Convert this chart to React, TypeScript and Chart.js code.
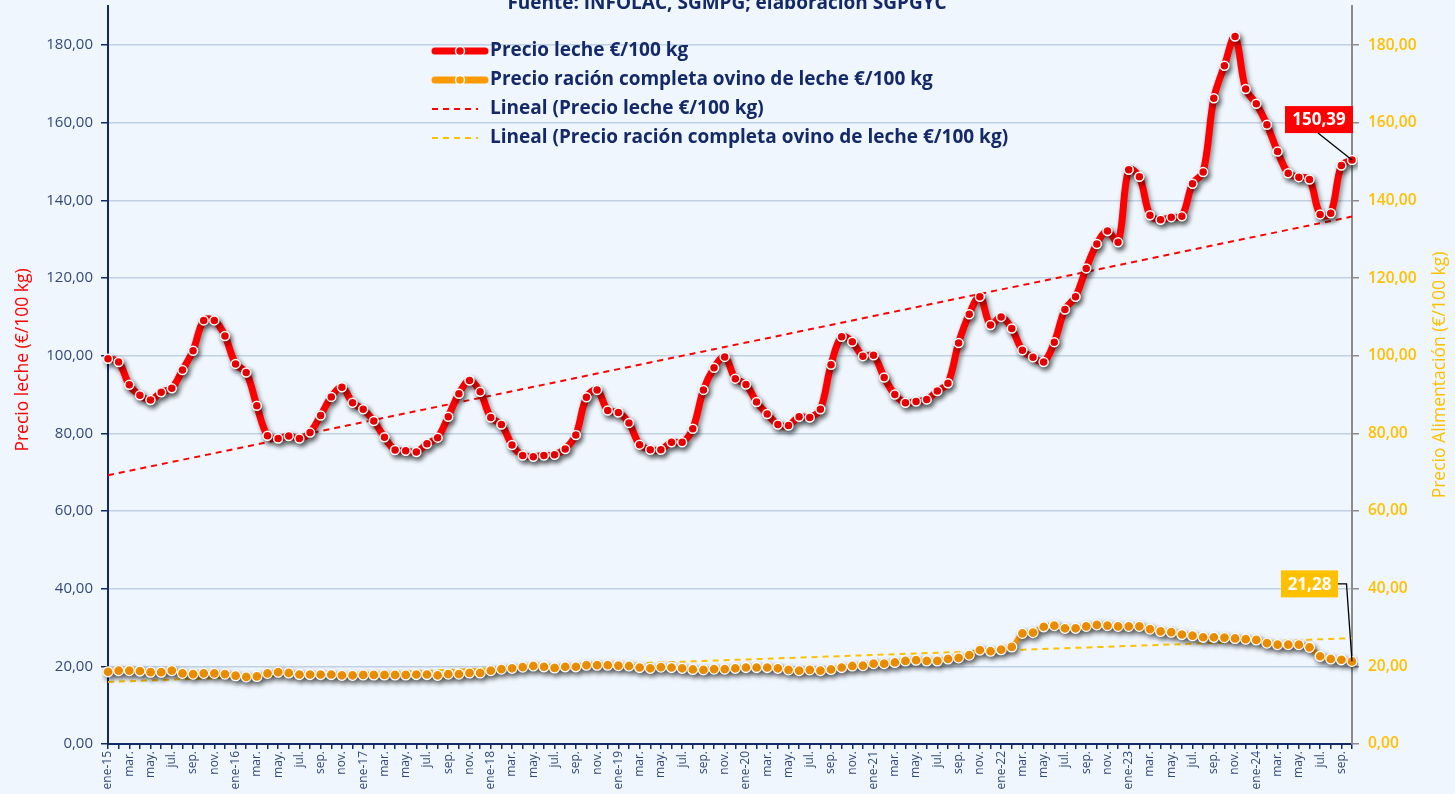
import React, { useEffect, useRef } from 'react';
import { Chart, registerables } from 'chart.js';

Chart.register(...registerables);

// ---- data ----
const MONTHS = ['ene', 'feb.', 'mar.', 'abr.', 'may.', 'jun.', 'jul.', 'ago.', 'sep.', 'oct.', 'nov.', 'dic.'];
const YEARS = ['15', '16', '17', '18', '19', '20', '21', '22', '23', '24'];

const PRECIO_LECHE = [
  99.2, 98.4, 92.5, 89.8, 88.6, 90.6, 91.6, 96.3, 101.3, 109.1, 109.1, 105.1,
  97.9, 95.7, 87.1, 79.4, 78.7, 79.3, 78.7, 80.2, 84.6, 89.4, 91.9, 87.9,
  86.2, 83.2, 79.0, 75.7, 75.5, 75.2, 77.3, 78.9, 84.3, 90.2, 93.6, 90.7,
  84.1, 82.3, 77.0, 74.3, 74.0, 74.3, 74.5, 76.0, 79.6, 89.3, 91.2, 85.9,
  85.4, 82.7, 77.1, 75.8, 75.8, 77.7, 77.7, 81.2, 91.2, 96.9, 99.7, 94.1,
  92.6, 88.1, 85.0, 82.3, 82.0, 84.3, 84.1, 86.2, 97.7, 104.9, 103.6, 99.9,
  100.1, 94.4, 90.0, 87.9, 88.2, 88.7, 90.9, 92.9, 103.3, 110.7, 115.2, 107.9,
  110.0, 107.0, 101.4, 99.6, 98.4, 103.5, 111.9, 115.2, 122.5, 128.8, 132.1, 129.2,
  147.9, 146.1, 136.2, 135.0, 135.7, 135.9, 144.3, 147.3, 166.3, 174.7, 182.2, 168.7,
  164.9, 159.5, 152.6, 147.0, 146.0, 145.4, 136.4, 136.7, 149.0, 150.39,
];

const PRECIO_RACION = [
  18.6, 18.9, 18.9, 18.8, 18.5, 18.5, 18.9, 18.2, 18.0, 18.2, 18.2, 18.0,
  17.6, 17.3, 17.4, 18.2, 18.5, 18.3, 17.9, 17.9, 17.9, 17.9, 17.7, 17.7,
  17.8, 17.8, 17.8, 17.8, 17.8, 17.9, 17.9, 17.7, 18.0, 18.0, 18.3, 18.3,
  18.9, 19.3, 19.5, 19.8, 20.1, 19.9, 19.6, 19.9, 19.9, 20.3, 20.3, 20.3,
  20.2, 20.1, 19.7, 19.5, 19.8, 19.7, 19.5, 19.2, 19.1, 19.3, 19.3, 19.5,
  19.7, 19.7, 19.7, 19.5, 19.1, 18.9, 19.1, 18.9, 19.2, 19.7, 20.1, 20.2,
  20.7, 20.7, 21.0, 21.4, 21.6, 21.4, 21.4, 21.9, 22.2, 22.9, 24.2, 23.9,
  24.3, 25.0, 28.5, 28.7, 30.2, 30.5, 29.8, 29.8, 30.3, 30.7, 30.5, 30.3,
  30.3, 30.3, 29.6, 29.0, 28.8, 28.2, 27.9, 27.5, 27.5, 27.4, 27.2, 27.0,
  26.8, 26.0, 25.6, 25.6, 25.6, 24.9, 22.6, 21.9, 21.7, 21.28,
];

const CATEGORIES = YEARS.flatMap((y) => MONTHS.map((m, i) => (i === 0 ? `ene-${y}` : m))).slice(0, PRECIO_LECHE.length);

const Y_TICKS_STEP = 20;
const Y_MAX = 190;

const TITLE = 'Fuente: INFOLAC, SGMPG; elaboración SGPGYC';
const LEGEND_LABELS = [
  'Precio leche €/100 kg',
  'Precio ración completa ovino de leche €/100 kg',
  'Lineal (Precio leche €/100 kg)',
  'Lineal (Precio ración completa ovino de leche €/100 kg)',
];
const Y_LEFT_TITLE = 'Precio leche (€/100 kg)';
const Y_RIGHT_TITLE = 'Precio Alimentación (€/100 kg)';

// ---- styles ----
const FONT = '"Open Sans", "Noto Sans", sans-serif';
const BG = '#EFF6FD';
const NAVY = '#13296A';
const TICK_TEXT = '#33497A';
const RED = '#FF0000';
const ORANGE = '#FF9900';
const GOLD = '#FFC000';
const GRID = 'rgba(176,196,222,0.75)';

function linearFit(vals: number[]): number[] {
  const n = vals.length;
  let sx = 0, sy = 0, sxx = 0, sxy = 0;
  vals.forEach((v, i) => {
    const x = i + 1;
    sx += x; sy += v; sxx += x * x; sxy += x * v;
  });
  const b = (n * sxy - sx * sy) / (n * sxx - sx * sx);
  const a = (sy - b * sx) / n;
  return vals.map((_, i) => a + b * (i + 1));
}

const fmt = (v: number) => v.toFixed(2).replace('.', ',');

const noPad = (s: any) => {
  s.paddingTop = 0;
  s.paddingBottom = 0;
  s.paddingLeft = 0;
  s.paddingRight = 0;
};

const decorPlugin = {
  id: 'decor',
  beforeDraw(chart: any) {
    const { ctx, width, height } = chart;
    ctx.save();
    ctx.fillStyle = BG;
    ctx.fillRect(0, 0, width, height);
    ctx.restore();
  },
  beforeDatasetDraw(chart: any, args: any) {
    if (args.index < 2) {
      const ctx = chart.ctx;
      ctx.save();
      ctx.shadowColor = 'rgba(0,0,0,0.45)';
      ctx.shadowBlur = 5;
      ctx.shadowOffsetX = 2;
      ctx.shadowOffsetY = 3;
    }
  },
  afterDatasetDraw(chart: any, args: any) {
    if (args.index < 2) chart.ctx.restore();
  },
  afterDraw(chart: any) {
    const { ctx } = chart;
    ctx.save();
    // title (cut at top)
    ctx.font = `bold 19px ${FONT}`;
    ctx.fillStyle = NAVY;
    ctx.textAlign = 'center';
    ctx.textBaseline = 'alphabetic';
    ctx.fillText(TITLE, 727, 9);

    // legend
    const lx0 = 432, lx1 = 488, tx = 490;
    const rows = [51, 80, 109, 138];
    const styles = [
      { color: RED, w: 7, dash: [] as number[], marker: true },
      { color: ORANGE, w: 7, dash: [] as number[], marker: true },
      { color: RED, w: 2, dash: [6, 5], marker: false },
      { color: GOLD, w: 2, dash: [6, 5], marker: false },
    ];
    rows.forEach((y, i) => {
      const s = styles[i];
      ctx.save();
      ctx.strokeStyle = s.color;
      ctx.lineWidth = s.w;
      ctx.lineCap = s.marker ? 'round' : 'butt';
      ctx.setLineDash(s.dash);
      ctx.beginPath();
      ctx.moveTo(s.marker ? lx0 + 3 : lx0, y);
      ctx.lineTo(s.marker ? lx1 - 3 : lx1 - 10, y);
      ctx.stroke();
      if (s.marker) {
        ctx.setLineDash([]);
        ctx.beginPath();
        ctx.arc((lx0 + lx1) / 2, y, 4.5, 0, Math.PI * 2);
        ctx.fillStyle = s.color;
        ctx.fill();
        ctx.lineWidth = 1.5;
        ctx.strokeStyle = '#FFFFFF';
        ctx.stroke();
      }
      ctx.restore();
      ctx.font = `bold 19px ${FONT}`;
      ctx.fillStyle = NAVY;
      ctx.textAlign = 'left';
      ctx.textBaseline = 'middle';
      ctx.fillText(LEGEND_LABELS[i], tx, y);
    });

    // axis titles
    ctx.font = `17.5px ${FONT}`;
    ctx.textAlign = 'center';
    ctx.textBaseline = 'middle';
    ctx.save();
    ctx.translate(23, 360);
    ctx.rotate(-Math.PI / 2);
    ctx.fillStyle = RED;
    ctx.fillText(Y_LEFT_TITLE, 0, 0);
    ctx.restore();
    ctx.save();
    ctx.translate(1440, 375);
    ctx.rotate(-Math.PI / 2);
    ctx.fillStyle = GOLD;
    ctx.fillText(Y_RIGHT_TITLE, 0, 0);
    ctx.restore();

    // data labels for last points
    const m0 = chart.getDatasetMeta(0).data;
    const m1 = chart.getDatasetMeta(1).data;
    const p0 = m0[m0.length - 1];
    const p1 = m1[m1.length - 1];
    ctx.font = `bold 17px ${FONT}`;
    ctx.textAlign = 'center';
    ctx.textBaseline = 'middle';
    if (p0) {
      const bx = p0.x - 67, by = p0.y - 54, bw = 68, bh = 27;
      ctx.strokeStyle = '#000';
      ctx.lineWidth = 1.3;
      ctx.beginPath();
      ctx.moveTo(p0.x - 34, by + bh);
      ctx.lineTo(p0.x, p0.y);
      ctx.stroke();
      ctx.fillStyle = RED;
      ctx.fillRect(bx, by, bw, bh);
      ctx.fillStyle = '#FFFFFF';
      ctx.fillText(fmt(PRECIO_LECHE[PRECIO_LECHE.length - 1]), bx + bw / 2, by + bh / 2 + 1);
    }
    if (p1) {
      const bx = p1.x - 71, by = p1.y - 91, bw = 57, bh = 27;
      ctx.strokeStyle = '#000';
      ctx.lineWidth = 1.3;
      ctx.beginPath();
      ctx.moveTo(bx + bw, by + bh / 2);
      ctx.lineTo(p1.x - 5.5, by + bh / 2);
      ctx.lineTo(p1.x, p1.y);
      ctx.stroke();
      ctx.fillStyle = GOLD;
      ctx.fillRect(bx, by, bw, bh);
      ctx.fillStyle = '#FFFFFF';
      ctx.fillText(fmt(PRECIO_RACION[PRECIO_RACION.length - 1]), bx + bw / 2, by + bh / 2 + 1);
    }
    ctx.restore();
  },
};

export default function App() {
  const ref = useRef<HTMLCanvasElement>(null);

  useEffect(() => {
    if (!ref.current) return;
    const trendLeche = linearFit(PRECIO_LECHE);
    const trendRacion = linearFit(PRECIO_RACION);
    const chart = new Chart(ref.current, {
      type: 'line',
      data: {
        labels: CATEGORIES,
        datasets: [
          {
            label: LEGEND_LABELS[0],
            data: PRECIO_LECHE,
            borderColor: RED,
            borderWidth: 7,
            backgroundColor: RED,
            pointRadius: 4.5,
            pointBackgroundColor: RED,
            pointBorderColor: '#FFFFFF',
            pointBorderWidth: 1.5,
            tension: 0.35,
            yAxisID: 'y',
          },
          {
            label: LEGEND_LABELS[1],
            data: PRECIO_RACION,
            borderColor: ORANGE,
            borderWidth: 5,
            backgroundColor: ORANGE,
            pointRadius: 5,
            pointBackgroundColor: ORANGE,
            pointBorderColor: '#FFFFFF',
            pointBorderWidth: 1.3,
            tension: 0.35,
            yAxisID: 'y1',
          },
          {
            label: LEGEND_LABELS[2],
            data: trendLeche,
            borderColor: RED,
            borderWidth: 2,
            borderDash: [6, 5],
            pointRadius: 0,
            tension: 0,
            yAxisID: 'y',
          },
          {
            label: LEGEND_LABELS[3],
            data: trendRacion,
            borderColor: GOLD,
            borderWidth: 2,
            borderDash: [6, 5],
            pointRadius: 0,
            tension: 0,
            yAxisID: 'y1',
          },
        ],
      },
      options: {
        responsive: false,
        animation: false,
        devicePixelRatio: 1,
        layout: { padding: { top: -2, left: 0, right: 0, bottom: 0 } },
        plugins: {
          legend: { display: false },
          tooltip: { enabled: false },
          title: { display: false },
        },
        scales: {
          x: {
            type: 'category',
            offset: false,
            grid: {
              display: true,
              drawOnChartArea: false,
              drawTicks: true,
              tickLength: 5,
              color: NAVY,
              tickColor: NAVY,
              lineWidth: 1.5,
            },
            border: { display: true, color: NAVY, width: 2 },
            ticks: {
              autoSkip: false,
              maxRotation: 90,
              minRotation: 90,
              padding: 2,
              color: TICK_TEXT,
              font: { family: FONT, size: 12 },
              callback: (_v: any, i: number) => (i % 2 === 0 ? CATEGORIES[i] : ''),
            },
            afterFit: (s: any) => { s.height = 50; noPad(s); },
          },
          y: {
            position: 'left',
            min: 0,
            max: Y_MAX,
            grid: {
              color: GRID,
              lineWidth: 1.5,
              tickColor: NAVY,
              tickLength: 7,
            },
            border: { display: true, color: NAVY, width: 2 },
            ticks: {
              stepSize: Y_TICKS_STEP,
              includeBounds: false,
              padding: 8,
              color: TICK_TEXT,
              font: { family: FONT, size: 15 },
              callback: (v: any) => fmt(Number(v)),
            },
            afterFit: (s: any) => { s.width = 108; noPad(s); },
          },
          y1: {
            position: 'right',
            min: 0,
            max: Y_MAX,
            grid: {
              drawOnChartArea: false,
              color: '#8C8C8C',
              tickColor: '#8C8C8C',
              tickLength: 7,
              lineWidth: 1.5,
            },
            border: { display: true, color: '#8C8C8C', width: 2 },
            ticks: {
              stepSize: Y_TICKS_STEP,
              includeBounds: false,
              padding: 9,
              color: GOLD,
              font: { family: FONT, size: 15.5, weight: '600' },
              callback: (v: any) => fmt(Number(v)),
            },
            afterFit: (s: any) => { s.width = 103; noPad(s); },
          },
        },
      } as any,
      plugins: [decorPlugin],
    });
    return () => chart.destroy();
  }, []);

  return (
    <div style={{ position: 'absolute', left: 0, top: 0, width: 1455, height: 794, overflow: 'hidden', background: BG }}>
      <canvas ref={ref} width={1455} height={794} style={{ display: 'block', width: 1455, height: 794 }} />
    </div>
  );
}
